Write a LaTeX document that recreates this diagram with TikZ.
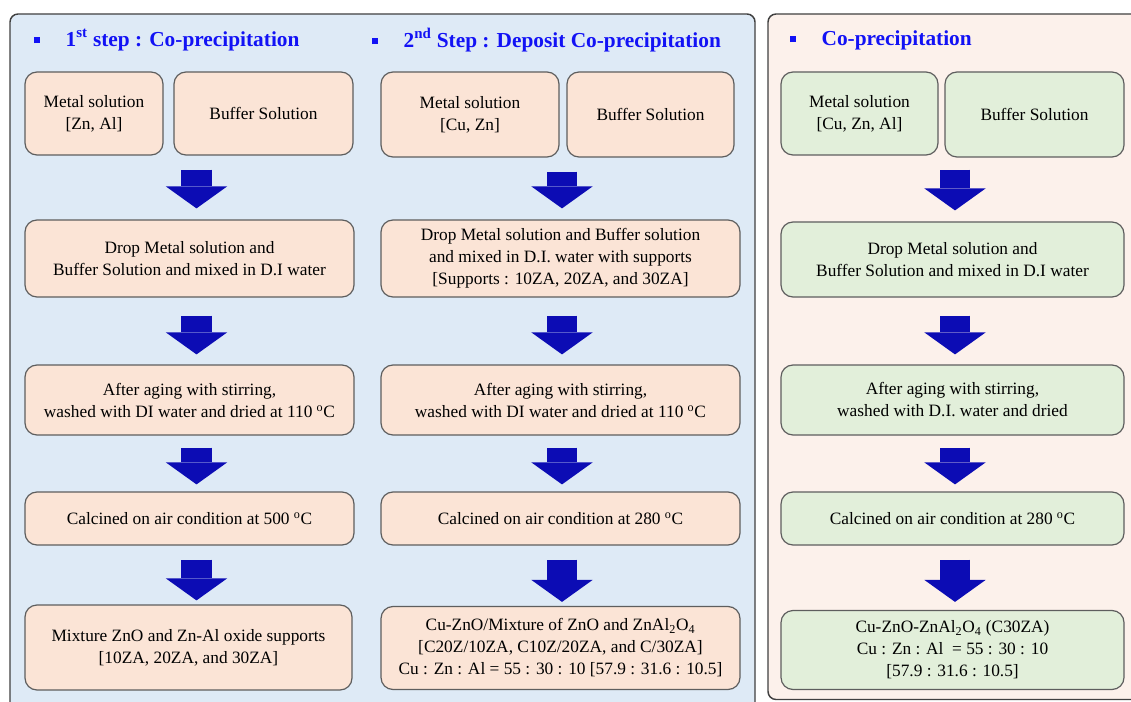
\documentclass[tikz,border=0pt]{standalone}
\usepackage{fontspec}
\setmainfont{Liberation Serif}
\usetikzlibrary{positioning,arrows.meta}

\definecolor{panelblue}{HTML}{DEEAF6}
\definecolor{panelpeach}{HTML}{FCF1EB}
\definecolor{boxpeach}{HTML}{FBE4D6}
\definecolor{boxgreen}{HTML}{E2EFDA}
\definecolor{headblue}{HTML}{1212F5}
\definecolor{arrowblue}{HTML}{0C0CB4}
\definecolor{edgegray}{HTML}{5E5E5E}

\newcommand{\headbullet}{\rule[0.3ex]{4.5pt}{4.5pt}\hspace{19pt}}

\tikzset {
    panel/.style={
        draw=black!75,
        line width=1.1pt,
        rounded corners=6pt,
    },
    head/.style={
        anchor=west,
        inner sep=0pt,
        text=headblue,
        font=\fontsize{16}{19}\selectfont\bfseries,
    },
    style box/.style={
        draw=edgegray,
        line width=0.9pt,
        rectangle, % Set the shape as a rectangle
        rounded corners=9pt,
        inner sep=2pt,
        align=center,
    },
    peach box/.style={style box, fill=boxpeach},
    green box/.style={style box, fill=boxgreen},
    wh/.style 2 args={minimum width=#1*0.75pt, minimum height=#2*0.75pt},
    big arrow/.style 2 args={
        draw=arrowblue,
        line width=23pt,
        shorten <=#1*0.75pt,
        shorten >=#2*0.75pt,
        -{Triangle[length=16.5pt,width=46pt,line width=0pt]},
    },
}

\begin{document}
\begin{tikzpicture}[x=0.75pt, y=-0.75pt, font=\fontsize{13}{16.5}\selectfont]
        \useasboundingbox (0,0) rectangle (1131,702);
        \clip (0,0) rectangle (1131,702);

        \draw[panel, fill=panelblue]  (10,14)  rectangle (755,730);
        \draw[panel, fill=panelpeach] (768,14) rectangle (1150,699.5);

        \node[head] (h1) at (34,40)  {\headbullet 1\textsuperscript{st} step : Co-precipitation};
        \node[head] (h2) at (372,40) {\headbullet 2\textsuperscript{nd} Step : Deposit Co-precipitation};
        \node[head] (h3) at (790,40) {\headbullet Co-precipitation};

        % 1st step
        \node[peach box, wh={138}{83}] (met1) at (94,113.5)    {Metal solution\\{}[Zn, Al]};
        \node[peach box, wh={179}{83}] (buf1) at (263.5,113.5) {Buffer Solution};
        \node[peach box, wh={329}{77}] (drop1) at (189.5,258.5) {Drop Metal solution and\\Buffer Solution and mixed in D.I water};
        \node[peach box, wh={329}{70}] (age1) at (189.5,400)  {After aging with stirring,\\washed with DI water and dried at 110 \textsuperscript{o}C};
        \node[peach box, wh={329}{53}] (calc1) at (189.5,518.5) {Calcined on air condition at 500 \textsuperscript{o}C};
        \node[peach box, wh={327}{85}] (sup1) at (188.5,647.5) {Mixture ZnO and Zn-Al oxide supports\\{}[10ZA, 20ZA, and 30ZA]};

        % 2nd step
        \node[peach box, wh={178}{85}] (met2) at (470,114.5)   {Metal solution\\{}[Cu, Zn]};
        \node[peach box, wh={167}{85}] (buf2) at (650.5,114.5) {Buffer Solution};
        \node[peach box, wh={359}{77}] (drop2) at (560.5,258.5) {Drop Metal solution and Buffer solution\\and mixed in D.I. water with supports\\{}[Supports : 10ZA, 20ZA, and 30ZA]};
        \node[peach box, wh={359}{70}] (age2) at (560.5,400)  {After aging with stirring,\\washed with DI water and dried at 110 \textsuperscript{o}C};
        \node[peach box, wh={359}{53}] (calc2) at (560.5,518.5) {Calcined on air condition at 280 \textsuperscript{o}C};
        \node[peach box, wh={359}{83}] (cat2) at (560.5,648)  {Cu-ZnO/Mixture of ZnO and ZnAl\textsubscript{2}O\textsubscript{4}\\{}[C20Z/10ZA, C10Z/20ZA, and C/30ZA]\\Cu : Zn : Al = 55 : 30 : 10 [57.9 : 31.6 : 10.5]};

        % co-precipitation
        \node[green box, wh={157}{83}] (met3) at (859.5,113.5)  {Metal solution\\{}[Cu, Zn, Al]};
        \node[green box, wh={179}{85}] (buf3) at (1034.5,114.5) {Buffer Solution};
        \node[green box, wh={343}{75}] (drop3) at (952.5,259.5) {Drop Metal solution and\\Buffer Solution and mixed in D.I water};
        \node[green box, wh={343}{70}] (age3) at (952.5,400)  {After aging with stirring,\\washed with D.I. water and dried};
        \node[green box, wh={343}{53}] (calc3) at (952.5,518.5) {Calcined on air condition at 280 \textsuperscript{o}C};
        \node[green box, wh={343}{79}] (cat3) at (952.5,650)  {Cu-ZnO-ZnAl\textsubscript{2}O\textsubscript{4} (C30ZA)\\Cu : Zn : Al\ \ = 55 : 30 : 10\\{}[57.9 : 31.6 : 10.5]};

        \coordinate (ax1) at (196.5,0);
        \coordinate (ax2) at (562,0);
        \coordinate (ax3) at (955,0);

        \draw[big arrow={14}{11}] (ax1 |- met1.south)  -- (ax1 |- drop1.north);
        \draw[big arrow={18}{10}] (ax1 |- drop1.south) -- (ax1 |- age1.north);
        \draw[big arrow={12}{7}]  (ax1 |- age1.south)  -- (ax1 |- calc1.north);
        \draw[big arrow={14}{4}]  (ax1 |- calc1.south) -- (ax1 |- sup1.north);

        \draw[big arrow={14}{11}] (ax2 |- met2.south)  -- (ax2 |- drop2.north);
        \draw[big arrow={18}{10}] (ax2 |- drop2.south) -- (ax2 |- age2.north);
        \draw[big arrow={12}{7}]  (ax2 |- age2.south)  -- (ax2 |- calc2.north);
        \draw[big arrow={14}{4}]  (ax2 |- calc2.south) -- (ax2 |- cat2.north);

        \draw[big arrow={14}{11}] (ax3 |- met3.south)  -- (ax3 |- drop3.north);
        \draw[big arrow={18}{10}] (ax3 |- drop3.south) -- (ax3 |- age3.north);
        \draw[big arrow={12}{7}]  (ax3 |- age3.south)  -- (ax3 |- calc3.north);
        \draw[big arrow={14}{8}]  (ax3 |- calc3.south) -- (ax3 |- cat3.north);
\end{tikzpicture}
\end{document}
